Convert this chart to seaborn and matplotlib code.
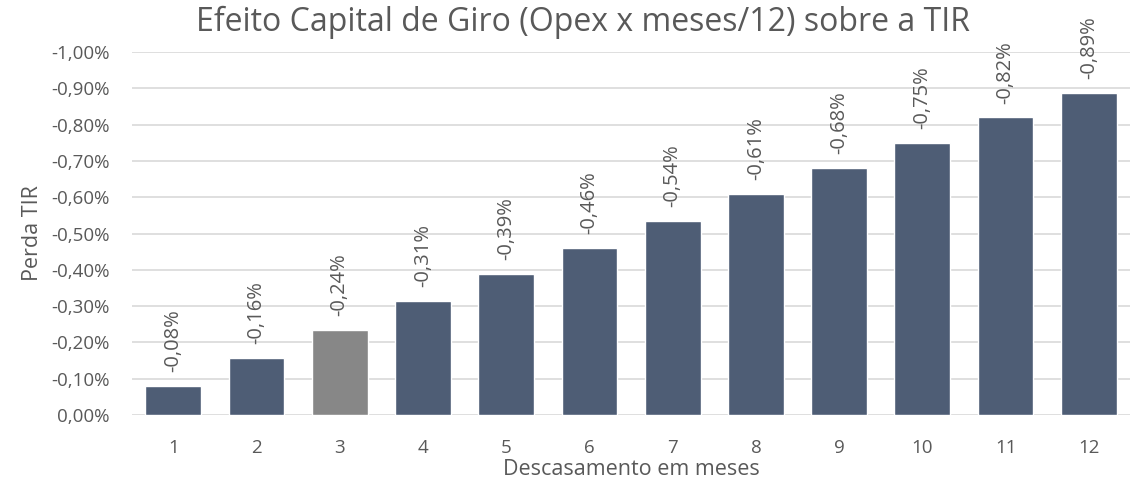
import numpy as np
import pandas as pd
import seaborn as sns
import matplotlib.pyplot as plt

# data (loss in IRR, percent)
meses = ["1", "2", "3", "4", "5", "6", "7", "8", "9", "10", "11", "12"]
perda = [0.079, 0.157, 0.235, 0.313, 0.389, 0.461, 0.535, 0.610, 0.680, 0.750, 0.820, 0.888]
rotulos = ["-0,08%", "-0,16%", "-0,24%", "-0,31%", "-0,39%", "-0,46%",
           "-0,54%", "-0,61%", "-0,68%", "-0,75%", "-0,82%", "-0,89%"]
yticks = [0.0, 0.1, 0.2, 0.3, 0.4, 0.5, 0.6, 0.7, 0.8, 0.9, 1.0]
ytick_labels = ["0,00%", "-0,10%", "-0,20%", "-0,30%", "-0,40%", "-0,50%",
                "-0,60%", "-0,70%", "-0,80%", "-0,90%", "-1,00%"]

sns.set_style("white")
plt.rcParams["font.family"] = ["Open Sans", "DejaVu Sans"]

azul = "#4e5d75"
cinza = "#878787"
cores = [cinza if m == "3" else azul for m in meses]
texto = "#595959"

df = pd.DataFrame({"meses": meses, "perda": perda})

fig = plt.figure(figsize=(11.35, 4.87), dpi=100)
ax = fig.add_axes([0.116, 0.148, 0.88, 0.745])

sns.barplot(data=df, x="meses", y="perda", hue="meses", palette=cores,
            legend=False, width=0.67, saturation=1, ax=ax, zorder=3)

for p, r in zip(ax.patches, rotulos):
    ax.annotate(r, (p.get_x() + p.get_width() / 2, p.get_height()),
                xytext=(0, 10), textcoords="offset points",
                rotation=90, ha="center", va="bottom", fontsize=14.5, color=texto)

ax.set_ylim(0, 1.0)
ax.set_xlim(-0.5, 11.5)
ax.set_yticks(yticks)
ax.set_yticklabels(ytick_labels)
ax.yaxis.grid(True, color="#d9d9d9", linewidth=1.2, zorder=0)
ax.set_axisbelow(True)
for s in ax.spines.values():
    s.set_visible(False)
ax.tick_params(axis="both", length=0, labelsize=13.5, colors=texto)
ax.tick_params(axis="x", pad=17)
ax.tick_params(axis="y", pad=16)

ax.set_xlabel("Descasamento em meses", fontsize=15.5, color=texto, labelpad=2)
ax.set_ylabel("Perda TIR", fontsize=15.5, color=texto, labelpad=6)
fig.suptitle("Efeito Capital de Giro (Opex x meses/12) sobre a TIR",
             x=0.514, y=0.988, fontsize=23, color=texto)

fig.savefig("out.png", dpi=100)
